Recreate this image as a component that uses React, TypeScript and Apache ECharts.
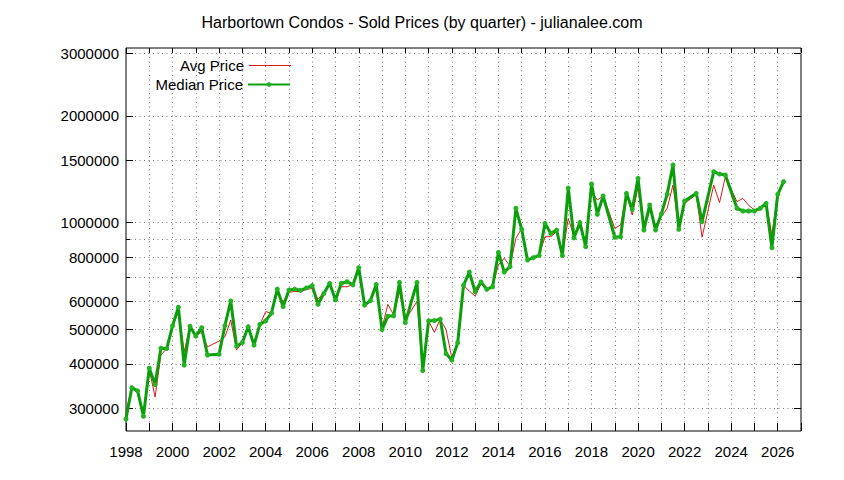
import * as echarts from "echarts";
import { useEffect, useRef } from "react";

// quarter start (decimal year) of each sale period
const quarters = [
  1998.0, 1998.25, 1998.5, 1998.75, 1999.0, 1999.25, 1999.5, 1999.75,
  2000.0, 2000.25, 2000.5, 2000.75, 2001.0, 2001.25, 2001.5, 2002.0,
  2002.25, 2002.5, 2002.75, 2003.0, 2003.25, 2003.5, 2003.75, 2004.0,
  2004.25, 2004.5, 2004.75, 2005.0, 2005.25, 2005.5, 2005.75, 2006.0,
  2006.25, 2006.5, 2006.75, 2007.0, 2007.25, 2007.5, 2007.75, 2008.0,
  2008.25, 2008.5, 2008.75, 2009.0, 2009.25, 2009.5, 2009.75, 2010.0,
  2010.5, 2010.75, 2011.0, 2011.25, 2011.5, 2011.75, 2012.0, 2012.25,
  2012.5, 2012.75, 2013.0, 2013.25, 2013.5, 2013.75, 2014.0, 2014.25,
  2014.5, 2014.75, 2015.0, 2015.25, 2015.5, 2015.75, 2016.0, 2016.25,
  2016.5, 2016.75, 2017.0, 2017.25, 2017.5, 2017.75, 2018.0, 2018.25,
  2018.5, 2019.0, 2019.25, 2019.5, 2019.75, 2020.0, 2020.25, 2020.5,
  2020.75, 2021.0, 2021.25, 2021.5, 2021.75, 2022.0, 2022.5, 2022.75,
  2023.25, 2023.5, 2023.75, 2024.25, 2024.5, 2024.75, 2025.0, 2025.25,
  2025.5, 2025.75, 2026.0, 2026.25,
];

const avgPrice = [
  294000, 343000, 330000, 285000, 386000, 323000, 424000, 442000,
  510000, 562000, 433000, 511000, 482000, 491000, 447000, 464000,
  477000, 532000, 438000, 460000, 517000, 452000, 515000, 562000,
  556000, 632000, 599000, 637000, 640000, 640000, 648000, 653000,
  609000, 637000, 668000, 615000, 660000, 660000, 670000, 745000,
  593000, 600000, 668000, 504000, 589000, 550000, 640000, 532000,
  600000, 383000, 529000, 491000, 535000, 500000, 415000, 459000,
  666000, 642000, 621000, 672000, 652000, 663000, 760000, 794000,
  755000, 903000, 964000, 785000, 797000, 809000, 913000, 913000,
  943000, 807000, 1028000, 913000, 1018000, 865000, 1222000, 1159000,
  1190000, 964000, 985000, 1210000, 1051000, 1260000, 954000, 1086000,
  985000, 1040000, 1098000, 1277000, 958000, 1134000, 1200000, 910000,
  1277000, 1139000, 1347000, 1146000, 1171000, 1120000, 1086000, 1100000,
  1134000, 923000, 1210000, 1304000,
];

const medianPrice = [
  280000, 343000, 336000, 285000, 389000, 350000, 443000, 442000,
  512000, 578000, 397000, 511000, 479000, 506000, 424000, 426000,
  513000, 602000, 449000, 460000, 509000, 452000, 517000, 529000,
  556000, 650000, 580000, 646000, 650000, 645000, 655000, 665000,
  589000, 632000, 675000, 606000, 675000, 682000, 668000, 747000,
  586000, 603000, 670000, 500000, 545000, 547000, 679000, 523000,
  679000, 383000, 529000, 530000, 535000, 428000, 410000, 459000,
  666000, 726000, 639000, 681000, 649000, 660000, 825000, 726000,
  752000, 1098000, 958000, 785000, 797000, 809000, 996000, 933000,
  953000, 807000, 1252000, 907000, 1000000, 856000, 1285000, 1056000,
  1189000, 910000, 913000, 1210000, 1091000, 1333000, 954000, 1122000,
  954000, 1058000, 1204000, 1454000, 958000, 1151000, 1210000, 1007000,
  1392000, 1371000, 1362000, 1098000, 1079000, 1079000, 1079000, 1098000,
  1134000, 850000, 1202000, 1304000,
];

const yLabelTicks = [300000, 400000, 500000, 600000, 800000, 1000000, 1500000, 2000000, 3000000];
const yMinorTicks = [700000, 900000];
const xLabelYears = [1998, 2000, 2002, 2004, 2006, 2008, 2010, 2012, 2014, 2016, 2018, 2020, 2022, 2024, 2026];

const FONT = "'Liberation Sans', Arial, sans-serif";
const Y_MIN = Math.log10(259000);
const Y_MAX = Math.log10(3105000);

const toLog = (values: number[]) => values.map((v) => Math.log10(v));

export default function App() {
  const ref = useRef<HTMLDivElement | null>(null);

  useEffect(() => {
    if (!ref.current) {
      return;
    }
    document.body.style.margin = "0";

    const chart = echarts.init(ref.current, null, { renderer: "svg" });
    const majorLog = toLog(yLabelTicks);
    const allLog = toLog([...yLabelTicks, ...yMinorTicks]);
    const gridDots = { show: true, lineStyle: { color: "#7a7a7a", width: 1, type: [1, 3.5] } };
    const legendBase = {
      right: 553,
      align: "right",
      orient: "vertical",
      itemWidth: 42,
      padding: 0,
      selectedMode: false,
      textStyle: { fontFamily: FONT, fontSize: 15, color: "#000" },
    };

    chart.setOption({
      animation: false,
      title: {
        text: "Harbortown Condos - Sold Prices (by quarter) - julianalee.com",
        left: "center",
        top: 9,
        textStyle: { fontFamily: FONT, fontSize: 16, fontWeight: "normal", color: "#000" },
      },
      legend: [
        { ...legendBase, top: 58, itemHeight: 1, data: [{ name: "Avg Price", icon: "rect" }] },
        { ...legendBase, top: 77, itemHeight: 6, data: ["Median Price"] },
      ],
      grid: {
        left: 126,
        right: 43,
        top: 48,
        bottom: 49,
        show: true,
        borderColor: "#000",
        borderWidth: 1,
      },
      xAxis: [
        {
          type: "value",
          position: "bottom",
          min: 1998,
          max: 2027,
          interval: 1,
          axisLine: { show: false },
          axisTick: { inside: true, length: 8, lineStyle: { color: "#000" } },
          axisLabel: {
            customValues: xLabelYears,
            formatter: (v: number) => String(v),
            margin: 13,
            fontFamily: FONT,
            fontSize: 15,
            color: "#000",
          },
          splitLine: gridDots,
        },
        {
          type: "value",
          position: "top",
          min: 1998,
          max: 2027,
          interval: 1,
          axisLine: { show: false },
          axisTick: { inside: true, length: 5, lineStyle: { color: "#000" } },
          axisLabel: { show: false },
          splitLine: { show: false },
        },
      ],
      yAxis: [
        {
          type: "value",
          position: "left",
          min: Y_MIN,
          max: Y_MAX,
          axisLine: { show: false },
          axisTick: { inside: true, length: 4, customValues: allLog, lineStyle: { color: "#000" } },
          axisLabel: {
            customValues: majorLog,
            formatter: (v: number) => String(Math.round(Math.pow(10, v))),
            margin: 7,
            fontFamily: FONT,
            fontSize: 15,
            color: "#000",
          },
          splitLine: gridDots,
        },
        {
          type: "value",
          position: "left",
          min: Y_MIN,
          max: Y_MAX,
          axisLine: { show: false },
          axisTick: { inside: true, length: 7, customValues: majorLog, lineStyle: { color: "#000" } },
          axisLabel: { show: false },
          splitLine: { show: false },
        },
        {
          type: "value",
          position: "right",
          min: Y_MIN,
          max: Y_MAX,
          axisLine: { show: false },
          axisTick: { inside: true, length: 4, customValues: allLog, lineStyle: { color: "#000" } },
          axisLabel: { show: false },
          splitLine: { show: false },
        },
        {
          type: "value",
          position: "right",
          min: Y_MIN,
          max: Y_MAX,
          axisLine: { show: false },
          axisTick: { inside: true, length: 7, customValues: majorLog, lineStyle: { color: "#000" } },
          axisLabel: { show: false },
          splitLine: { show: false },
        },
      ],
      series: [
        {
          name: "Avg Price",
          type: "line",
          data: quarters.map((q, i) => [q, Math.log10(avgPrice[i])]),
          symbol: "none",
          lineStyle: { color: "#d81c1c", width: 1 },
          itemStyle: { color: "#d81c1c" },
        },
        {
          name: "Median Price",
          type: "line",
          data: quarters.map((q, i) => [q, Math.log10(medianPrice[i])]),
          symbol: "circle",
          symbolSize: 5,
          lineStyle: { color: "#0a9f0a", width: 3 },
          itemStyle: { color: "#22b322" },
        },
      ],
    });

    return () => {
      chart.dispose();
    };
  }, []);

  return <div ref={ref} style={{ width: 844, height: 480 }} />;
}
